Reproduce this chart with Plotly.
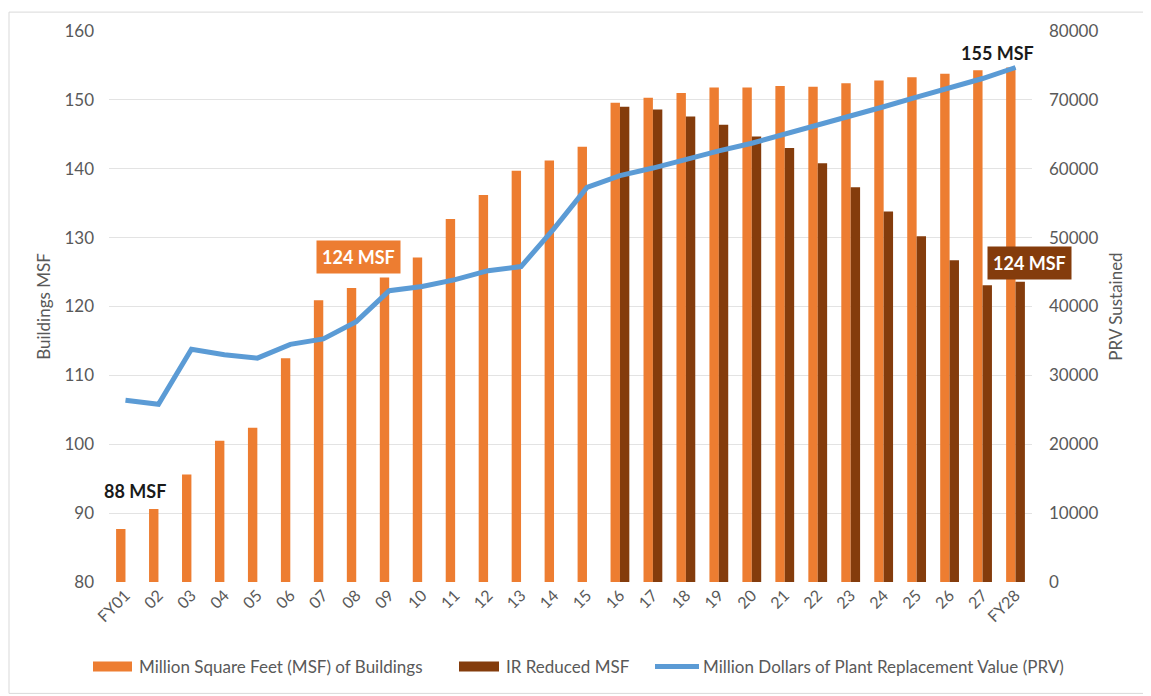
import plotly.graph_objects as go

# Fiscal years on the x axis
years = ["FY01", "02", "03", "04", "05", "06", "07", "08", "09", "10",
         "11", "12", "13", "14", "15", "16", "17", "18", "19", "20",
         "21", "22", "23", "24", "25", "26", "27", "FY28"]

# Million square feet of buildings (left axis)
msf = [87.7, 90.6, 95.6, 100.5, 102.4, 112.5, 120.9, 122.7, 124.2, 127.1,
       132.7, 136.2, 139.7, 141.2, 143.2, 149.6, 150.3, 151.0, 151.8, 151.8,
       152.0, 151.9, 152.4, 152.8, 153.3, 153.8, 154.3, 154.7]

# IR reduced MSF (left axis), only from FY16 on
ir_msf = [None] * 15 + [149.0, 148.6, 147.6, 146.4, 144.7, 143.0, 140.8,
                        137.3, 133.8, 130.2, 126.7, 123.1, 123.6]

# Million dollars of plant replacement value (right axis)
prv = [26400, 25800, 33800, 33000, 32500, 34500, 35300, 37800, 42300, 42900,
       43900, 45200, 45800, 51300, 57300, 59000, 60100, 61400, 62600, 63700,
       65000, 66300, 67700, 69000, 70400, 71800, 73100, 74700]

names = ["Million Square Feet (MSF) of Buildings", "IR Reduced MSF",
         "Million Dollars of Plant Replacement Value (PRV)"]

ORANGE = "#ED7D31"
BROWN = "#843C0C"
BLUE = "#5B9BD5"
GREY = "#595959"
FONT = "Lato"

fig = go.Figure()

fig.add_trace(go.Bar(x=years, y=msf, name=names[0],
                     marker_color=ORANGE, marker_line_width=0))
fig.add_trace(go.Bar(x=years, y=ir_msf, name=names[1],
                     marker_color=BROWN, marker_line_width=0))
fig.add_trace(go.Scatter(x=years, y=prv, yaxis="y2", mode="lines", name=names[2],
                         line=dict(color=BLUE, width=5)))

# page is drawn with an 8px body margin, so work in page pixels and shift
OFF = 8
W, H = 1151 - OFF, 696 - OFF
L, R, T, B = 109, 1032, 28, 582   # plot area in page pixels


def px(x):
    return (x - L) / (R - L)


def py(y):
    return (B - y) / (B - T)


fig.update_layout(
    width=W, height=H,
    margin=dict(l=L - OFF, r=W - (R - OFF), t=T - OFF, b=H - (B - OFF)),
    paper_bgcolor="white", plot_bgcolor="white",
    font=dict(family=FONT, size=16, color=GREY),
    barmode="group", bargap=0.43, bargroupgap=0,
    showlegend=False,
    xaxis=dict(tickangle=-45, showgrid=False, showline=False, ticks="",
               tickfont=dict(size=16, color=GREY)),
    yaxis=dict(range=[80, 160], dtick=10, showgrid=True, gridcolor="#E3E3E3",
               gridwidth=1, zeroline=False, showline=False, ticklabelstandoff=14,
               title=dict(text="Buildings MSF", font=dict(size=17, color=GREY), standoff=9),
               tickfont=dict(size=17, color=GREY)),
    yaxis2=dict(range=[0, 80000], dtick=10000, tickformat="d", overlaying="y",
                side="right", showgrid=False, zeroline=False, showline=False,
                ticklabelstandoff=16,
                title=dict(text="PRV Sustained", font=dict(size=17, color=GREY), standoff=12),
                tickfont=dict(size=17, color=GREY)),
)

# legend drawn by hand so the entries sit where the original has them
LEG_Y = 667
fig.add_shape(type="rect", xref="paper", yref="paper", x0=px(93), x1=px(132),
              y0=py(LEG_Y + 5), y1=py(LEG_Y - 5), fillcolor=ORANGE, line_width=0)
fig.add_shape(type="rect", xref="paper", yref="paper", x0=px(459), x1=px(499),
              y0=py(LEG_Y + 5), y1=py(LEG_Y - 5), fillcolor=BROWN, line_width=0)
fig.add_shape(type="line", xref="paper", yref="paper", x0=px(655), x1=px(699),
              y0=py(LEG_Y), y1=py(LEG_Y), line=dict(color=BLUE, width=5))
for name, x0 in zip(names, [137, 504, 701]):
    fig.add_annotation(text=name, xref="paper", yref="paper", x=px(x0), y=py(LEG_Y),
                       xanchor="left", yanchor="middle", showarrow=False,
                       font=dict(size=17, color=GREY))

# callout labels
callouts = [
    ("<b>88 MSF</b>", 135, 491, None, "#1a1a1a"),
    ("<b>155 MSF</b>", 997, 50, None, "#1a1a1a"),
    ("<b>124 MSF</b>", 358, 255, ORANGE, "white"),
    ("<b>124 MSF</b>", 1029, 261, BROWN, "white"),
]
for text, x, y, bg, col in callouts:
    fig.add_annotation(text=text, xref="paper", yref="paper", x=px(x), y=py(y),
                       xanchor="center", yanchor="middle", showarrow=False,
                       bgcolor=bg, borderpad=5 if bg else 0,
                       font=dict(size=18, color=col))

# light outer frame
fig.add_shape(type="rect", xref="paper", yref="paper",
              x0=px(9), x1=px(1149), y0=py(694), y1=py(9),
              line=dict(color="#D9D9D9", width=1), layer="below")

fig.write_html("out.html")
